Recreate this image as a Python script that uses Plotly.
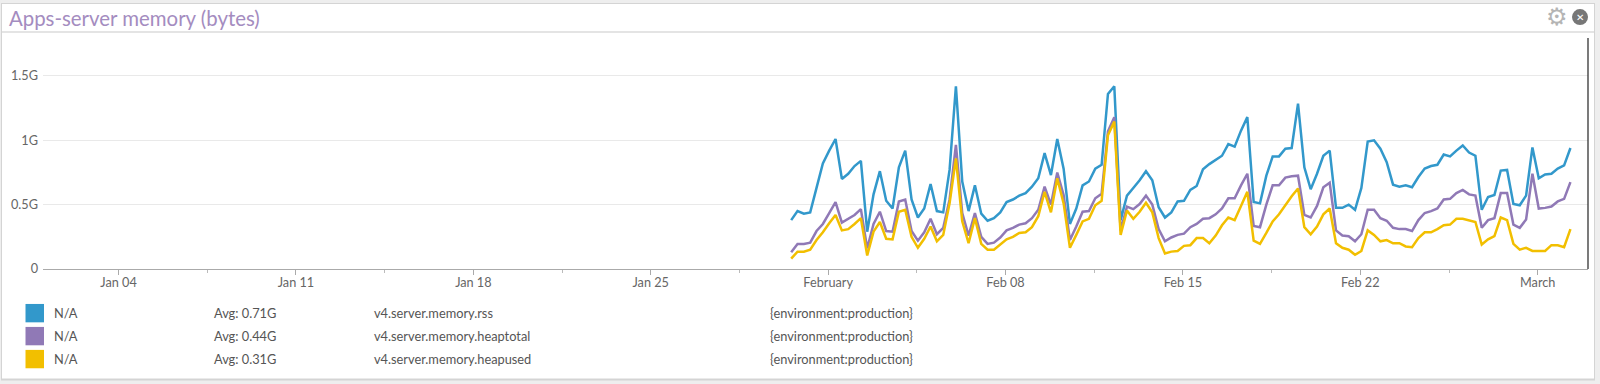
import plotly.graph_objects as go
import pandas as pd

W, H = 1600, 384
L, R, T, B = 43, 1588, 38, 269.3
START = "2015-01-30 13:00"
STEP = "6h"

rss = [0.38,0.45,0.43,0.44,0.63,0.82,0.92,1.01,0.70,0.74,0.80,0.84,0.29,0.58,0.76,0.53,0.47,0.79,0.92,0.54,
       0.40,0.47,0.66,0.45,0.44,0.77,1.42,0.68,0.45,0.65,0.43,0.375,0.395,0.44,0.52,0.54,0.57,0.59,0.64,0.705,
       0.90,0.73,1.01,0.78,0.35,0.47,0.65,0.68,0.78,0.81,1.36,1.42,0.38,0.57,0.63,0.69,0.76,0.69,0.48,0.40,
       0.44,0.525,0.53,0.615,0.645,0.775,0.815,0.85,0.88,0.97,0.95,1.075,1.18,0.52,0.51,0.725,0.875,0.875,0.935,0.94,
       1.285,0.79,0.62,0.74,0.88,0.92,0.475,0.475,0.50,0.46,0.63,0.99,1.00,0.935,0.83,0.655,0.64,0.65,0.635,0.715,
       0.78,0.80,0.81,0.89,0.875,0.92,0.96,0.905,0.88,0.46,0.56,0.575,0.765,0.77,0.505,0.495,0.57,0.945,0.705,0.735,
       0.74,0.78,0.805,0.94]
heaptotal = [0.13,0.195,0.195,0.205,0.295,0.35,0.435,0.52,0.36,0.39,0.42,0.465,0.16,0.35,0.445,0.295,0.29,0.525,0.54,0.295,
       0.22,0.285,0.39,0.27,0.32,0.54,0.965,0.435,0.26,0.435,0.25,0.195,0.205,0.245,0.30,0.32,0.345,0.355,0.395,0.46,
       0.64,0.50,0.75,0.575,0.225,0.33,0.445,0.45,0.55,0.585,1.07,1.18,0.30,0.485,0.465,0.505,0.57,0.50,0.31,0.215,
       0.245,0.265,0.275,0.325,0.35,0.39,0.395,0.425,0.47,0.55,0.55,0.65,0.74,0.335,0.325,0.50,0.65,0.65,0.71,0.72,
       0.725,0.42,0.40,0.49,0.635,0.67,0.30,0.26,0.255,0.215,0.27,0.46,0.46,0.395,0.375,0.32,0.31,0.31,0.295,0.38,
       0.435,0.45,0.47,0.54,0.545,0.59,0.615,0.58,0.57,0.32,0.38,0.395,0.59,0.59,0.345,0.32,0.385,0.74,0.47,0.475,
       0.485,0.525,0.545,0.675]
heapused = [0.08,0.135,0.135,0.15,0.225,0.285,0.355,0.42,0.30,0.31,0.35,0.395,0.105,0.29,0.365,0.235,0.23,0.445,0.46,0.25,
       0.165,0.235,0.33,0.215,0.265,0.51,0.86,0.37,0.20,0.395,0.195,0.15,0.15,0.19,0.23,0.25,0.28,0.285,0.325,0.41,
       0.60,0.44,0.705,0.51,0.165,0.265,0.37,0.39,0.495,0.53,1.04,1.145,0.265,0.455,0.39,0.445,0.515,0.44,0.24,0.12,
       0.135,0.14,0.18,0.185,0.24,0.24,0.20,0.26,0.34,0.40,0.38,0.49,0.60,0.22,0.195,0.28,0.37,0.425,0.50,0.565,
       0.625,0.325,0.27,0.33,0.425,0.47,0.20,0.165,0.15,0.11,0.14,0.30,0.265,0.215,0.225,0.20,0.20,0.175,0.17,0.24,
       0.285,0.285,0.31,0.34,0.345,0.39,0.39,0.38,0.365,0.19,0.23,0.255,0.40,0.38,0.195,0.15,0.165,0.14,0.14,0.14,
       0.185,0.185,0.17,0.31]

series_names = ["v4.server.memory.rss", "v4.server.memory.heaptotal", "v4.server.memory.heapused"]
series_avg = ["Avg: 0.71G", "Avg: 0.44G", "Avg: 0.31G"]
series_colors = ["#3298cb", "#9079b6", "#f2bf00"]
series_values = [rss, heaptotal, heapused]
series_scope = "{environment:production}"

x_tick_vals = ["2015-01-04", "2015-01-11", "2015-01-18", "2015-01-25", "2015-02-01",
               "2015-02-08", "2015-02-15", "2015-02-22", "2015-03-01"]
x_tick_text = ["Jan 04", "Jan 11", "Jan 18", "Jan 25", "February", "Feb 08", "Feb 15", "Feb 22", "March"]
x_minor_vals = ["2015-01-07 12:00", "2015-01-14 12:00", "2015-01-21 12:00", "2015-01-28 12:00",
                "2015-02-04 12:00", "2015-02-11 12:00", "2015-02-18 12:00", "2015-02-25 12:00"]
y_tick_vals = [0, 0.5, 1, 1.5]
y_tick_text = ["0", "0.5G", "1G", "1.5G"]

FONT = "Lato"
times = pd.date_range(START, periods=len(rss), freq=STEP)

fig = go.Figure()
for name, vals, col in zip(series_names, series_values, series_colors):
    fig.add_trace(go.Scatter(x=times, y=vals, mode="lines", name=name,
                             line=dict(color=col, width=2.5), hoverinfo="skip"))

def px(x): return (x - L) / (R - L)
def py(y): return (B - y) / (B - T)

shapes = []
def rect(x0, y0, x1, y1, fill, layer="below"):
    shapes.append(dict(type="rect", xref="paper", yref="paper", x0=px(x0), x1=px(x1),
                       y0=py(y0), y1=py(y1), fillcolor=fill, line_width=0, layer=layer))

rect(1, 3, 1595, 381, "#d4d4d4")
rect(2, 4, 1594, 379, "#ffffff")
rect(2, 31, 1594, 33, "#e4e4e4")
shapes.append(dict(type="line", xref="paper", yref="paper", x0=1, x1=1,
                   y0=0, y1=1, line=dict(color="#222222", width=1.2), layer="above"))

ann = []
def text(x, y, s, size=12.8, color="#555555", anchor="left", family=FONT):
    ann.append(dict(xref="paper", yref="paper", x=px(x), y=py(y), text=s, showarrow=False,
                    xanchor=anchor, yanchor="middle", borderpad=0, borderwidth=0,
                    font=dict(family=family, size=size, color=color)))

text(9, 18, "Apps-server memory (bytes)", size=20.4, color="#a48cc0")
for i, (nm, avg, col) in enumerate(zip(series_names, series_avg, series_colors)):
    yc = 313.5 + 23 * i
    rect(25.5, yc - 9.2, 44, yc + 9.2, col)
    text(53.5, yc, "N/A")
    text(213.5, yc, avg)
    text(374, yc, nm)
    text(770, yc, series_scope)

# header icons
text(1557, 17, "<b>⚙</b>", size=24, color="#b5b5b5", anchor="center", family="DejaVu Sans")
shapes.append(dict(type="circle", xref="paper", yref="paper", x0=px(1572), x1=px(1588),
                   y0=py(25), y1=py(9), fillcolor="#777777", line_width=0))
text(1580, 17, "<b>✕</b>", size=10, color="#ffffff", anchor="center", family="DejaVu Sans")

fig.update_layout(
    width=W, height=H, showlegend=False,
    margin=dict(l=L, r=W - R, t=T, b=H - B, pad=0),
    paper_bgcolor="#eeeeee", plot_bgcolor="rgba(0,0,0,0)",
    shapes=shapes, annotations=ann, font=dict(family=FONT, size=12.7, color="#666666"),
    xaxis=dict(type="date", range=["2015-01-01 00:25", "2015-03-02 23:38"],
               tickmode="array", tickvals=x_tick_vals, ticktext=x_tick_text,
               showgrid=False, zeroline=False, showline=True, linecolor="#aaaaaa", linewidth=1,
               ticks="outside", ticklen=5, tickcolor="#aaaaaa", tickwidth=1, ticklabelstandoff=-3,
               tickfont=dict(family=FONT, size=12.7, color="#666666"),
               minor=dict(tickmode="array", tickvals=x_minor_vals, ticks="outside",
                          ticklen=3, tickcolor="#bbbbbb", showgrid=False)),
    yaxis=dict(range=[0, 1.795], tickmode="array", tickvals=y_tick_vals, ticktext=y_tick_text,
               showgrid=True, gridcolor="#e9e9e9", gridwidth=1, zeroline=False, showline=False,
               ticks="", ticklabelstandoff=4,
               tickfont=dict(family=FONT, size=12.7, color="#666666")),
)

fig.write_html("out.html", config={"displayModeBar": False},
               post_script="document.body.style.margin='0';document.documentElement.style.overflow='hidden';")
